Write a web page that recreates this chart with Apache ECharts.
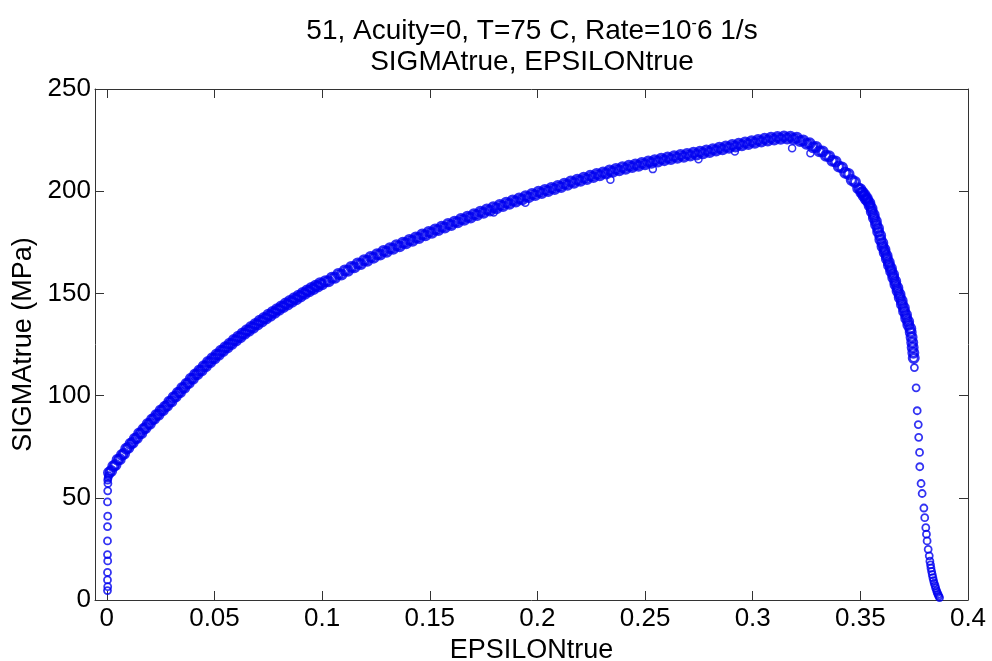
<!DOCTYPE html>
<html>
<head>
<meta charset="utf-8">
<script src="https://cdn.jsdelivr.net/npm/echarts@6/dist/echarts.min.js"></script>
<style>
    html, body { margin: 0; padding: 0; background: #fff; }
    #chart { width: 992px; height: 661px; }
</style>
</head>
<body>
<div id="chart"></div>
<script>
var strainTicks = [0, 0.05, 0.1, 0.15, 0.2, 0.25, 0.3, 0.35, 0.4];
var stressTicks = [0, 50, 100, 150, 200, 250];

// loading straight up at epsilon ~ 0
var elasticPoints = [
    [0.0003, 4.6], [0.0004, 6.5], [0.0003, 9.8], [0.0003, 13.5], [0.0004, 19.1],
    [0.0003, 22.2], [0.0003, 28.9], [0.0003, 35.9], [0.0004, 41.0], [0.0003, 48.0],
    [0.0004, 53.4], [0.0005, 57.0], [0.0004, 58.7], [0.0006, 59.8], [0.0008, 60.8]
];

var hardeningPoints = [
    [0.001, 62.3], [0.002, 63.1], [0.003, 65.4], [0.004, 66.0], [0.005, 68.6],
    [0.006, 68.9], [0.007, 71.0], [0.008, 71.6], [0.009, 74.0], [0.010, 74.5],
    [0.011, 76.4], [0.012, 76.9], [0.013, 78.9], [0.014, 79.2], [0.015, 81.5],
    [0.016, 81.6], [0.017, 83.6], [0.018, 84.1], [0.019, 86.1], [0.020, 86.2],
    [0.021, 88.3], [0.022, 88.7], [0.023, 90.5], [0.024, 90.6], [0.025, 92.7],
    [0.026, 92.8], [0.027, 94.5], [0.028, 95.0], [0.029, 97.0], [0.030, 97.1],
    [0.031, 99.2], [0.032, 99.5], [0.033, 101.4], [0.034, 101.6], [0.035, 103.7],
    [0.036, 103.8], [0.037, 105.8], [0.038, 106.1], [0.039, 108.3], [0.040, 108.2],
    [0.041, 110.3], [0.042, 110.4], [0.043, 112.3], [0.044, 112.3], [0.045, 114.4],
    [0.046, 114.3], [0.047, 116.4], [0.048, 116.3], [0.049, 118.3], [0.050, 118.2],
    [0.051, 120.1], [0.052, 120.0], [0.053, 121.9], [0.054, 121.8], [0.055, 123.7],
    [0.056, 123.5], [0.057, 125.4], [0.058, 125.3], [0.059, 127.2], [0.060, 126.9],
    [0.061, 128.8], [0.062, 128.6], [0.063, 130.4], [0.064, 130.2], [0.065, 132.0],
    [0.066, 131.7], [0.067, 133.6], [0.068, 133.2], [0.069, 135.0], [0.070, 134.8],
    [0.071, 136.6], [0.072, 136.2], [0.073, 138.0], [0.074, 137.7], [0.075, 139.5],
    [0.076, 139.1], [0.077, 140.9], [0.078, 140.5], [0.079, 142.3], [0.080, 142.0],
    [0.081, 143.6], [0.082, 143.3], [0.083, 145.0], [0.084, 144.6], [0.085, 146.3],
    [0.086, 145.9], [0.087, 147.6], [0.088, 147.1], [0.089, 148.9], [0.090, 148.5],
    [0.091, 150.2], [0.092, 149.8], [0.093, 151.4], [0.094, 151.1], [0.095, 152.6],
    [0.096, 152.2], [0.097, 153.8], [0.098, 153.4], [0.099, 155.0], [0.100, 154.5],
    [0.1015, 156.0], [0.103, 155.9], [0.1045, 157.7], [0.106, 157.6], [0.1075, 159.5],
    [0.109, 159.3], [0.1105, 161.2], [0.112, 161.1], [0.1135, 162.9], [0.115, 162.8],
    [0.1165, 164.6], [0.118, 164.4], [0.1195, 166.2], [0.121, 166.0], [0.1225, 167.8],
    [0.124, 167.5], [0.1255, 169.2], [0.127, 169.0], [0.1285, 170.7], [0.130, 170.4],
    [0.1315, 172.1], [0.133, 171.8], [0.1345, 173.5], [0.136, 173.1], [0.1375, 174.8],
    [0.139, 174.5], [0.1405, 176.1], [0.142, 175.8], [0.1435, 177.4], [0.145, 177.1],
    [0.1465, 178.8], [0.148, 178.4], [0.1495, 180.1], [0.151, 179.7], [0.1525, 181.3],
    [0.154, 181.0], [0.1555, 182.6], [0.157, 182.2], [0.1585, 183.9], [0.160, 183.5],
    [0.1615, 185.1], [0.163, 184.8], [0.1645, 186.4], [0.166, 186.0], [0.1675, 187.5],
    [0.169, 187.1], [0.1705, 188.7], [0.172, 188.3], [0.1735, 189.9], [0.175, 189.5],
    [0.1765, 191.0], [0.178, 190.6], [0.1795, 192.1], [0.181, 191.7], [0.1825, 193.2],
    [0.184, 192.7], [0.1855, 194.3], [0.187, 193.8], [0.1885, 195.4], [0.190, 194.9],
    [0.1915, 196.4], [0.193, 196.0], [0.1945, 197.5], [0.196, 197.1], [0.1975, 198.6],
    [0.199, 198.1], [0.2005, 199.7], [0.202, 199.1], [0.2035, 200.6], [0.205, 200.1],
    [0.2065, 201.6], [0.208, 201.1], [0.2095, 202.6], [0.211, 202.1], [0.2125, 203.7],
    [0.214, 203.2], [0.2155, 204.7], [0.217, 204.1], [0.2185, 205.6], [0.220, 205.1],
    [0.2215, 206.6], [0.223, 206.0], [0.2245, 207.5], [0.226, 206.9], [0.2275, 208.4],
    [0.229, 207.8], [0.2305, 209.2], [0.232, 208.7], [0.2335, 210.1], [0.235, 209.5],
    [0.2365, 210.9], [0.238, 210.3], [0.2395, 211.7], [0.241, 211.0], [0.2425, 212.4],
    [0.244, 211.8], [0.2455, 213.1], [0.247, 212.5], [0.2485, 213.8], [0.250, 213.2],
    [0.2515, 214.5], [0.253, 213.9], [0.2545, 215.2], [0.256, 214.5], [0.2575, 215.9],
    [0.259, 215.2], [0.2605, 216.5], [0.262, 215.8], [0.2635, 217.1], [0.265, 216.4],
    [0.2665, 217.7], [0.268, 216.9], [0.2695, 218.2], [0.271, 217.5], [0.2725, 218.8],
    [0.274, 218.0], [0.2755, 219.3], [0.277, 218.6], [0.2785, 219.9], [0.280, 219.2],
    [0.2815, 220.5], [0.283, 219.9], [0.2845, 221.2], [0.286, 220.5], [0.2875, 221.9],
    [0.289, 221.3], [0.2905, 222.6], [0.292, 221.9], [0.2935, 223.2], [0.295, 222.5],
    [0.2965, 223.8], [0.298, 223.1], [0.2995, 224.4], [0.301, 223.7], [0.3025, 225.0],
    [0.304, 224.3], [0.3055, 225.6], [0.307, 224.8], [0.3085, 226.1], [0.310, 225.3],
    [0.3115, 226.5], [0.313, 225.6], [0.3145, 226.8], [0.316, 225.8]
];

var softeningPoints = [
    [0.3175, 226.7], [0.319, 225.5], [0.3205, 226.1], [0.322, 224.5], [0.3235, 224.8],
    [0.325, 223.2], [0.3265, 223.4], [0.328, 221.5], [0.3295, 221.6], [0.331, 219.5],
    [0.3325, 219.4], [0.334, 217.3], [0.3355, 217.1], [0.337, 214.9], [0.3385, 214.5],
    [0.340, 212.1], [0.3415, 211.6], [0.343, 209.0], [0.3445, 208.4], [0.346, 205.5],
    [0.3475, 204.5], [0.349, 201.5], [0.350, 201.0], [0.3505, 199.4], [0.351, 199.5],
    [0.3515, 197.8], [0.352, 198.1], [0.3525, 196.2], [0.353, 196.5],
    [0.3533, 195.3], [0.3542, 194.2], [0.3543, 193.0], [0.3552, 191.6], [0.3553, 190.1],
    [0.3562, 188.5], [0.3563, 186.9], [0.3572, 185.3], [0.3573, 183.6], [0.3582, 181.9],
    [0.3583, 180.1], [0.3592, 178.3], [0.3593, 176.4], [0.3602, 174.6], [0.3603, 173.0],
    [0.3612, 171.5], [0.3613, 170.0], [0.3622, 168.4], [0.3623, 166.9], [0.3632, 165.3],
    [0.3633, 163.8], [0.3642, 162.3], [0.3643, 160.8], [0.3652, 159.2], [0.3653, 157.6],
    [0.3662, 156.0], [0.3663, 154.4], [0.3672, 152.8], [0.3673, 151.2], [0.3682, 149.6],
    [0.3683, 148.0], [0.3692, 146.4], [0.3693, 144.7], [0.3702, 143.0], [0.3703, 141.3],
    [0.3712, 139.6], [0.3713, 137.9], [0.3722, 136.2], [0.3723, 134.5], [0.3732, 132.8],
    [0.3734, 131.0], [0.3738, 128.6], [0.3741, 126.0], [0.3743, 123.5], [0.3746, 121.0],
    [0.3748, 118.4]
];

// sparse points after the neck, then the tail down to zero
var fracturePoints = [
    [0.3751, 113.7], [0.3759, 103.8], [0.3764, 92.6], [0.3769, 85.8], [0.3771, 79.6],
    [0.3775, 72.2], [0.3776, 65.2], [0.3782, 57.0], [0.3787, 52.1], [0.3795, 45.0],
    [0.3799, 40.3], [0.3804, 35.4], [0.3807, 32.2], [0.3810, 28.9], [0.3815, 24.8],
    [0.3820, 21.6], [0.3823, 19.0], [0.3826, 17.2], [0.3828, 15.6], [0.3831, 14.0],
    [0.3834, 12.4], [0.3837, 10.9], [0.3840, 9.5], [0.3843, 8.2], [0.3847, 7.0],
    [0.3850, 5.8], [0.3854, 4.6], [0.3857, 3.6], [0.3861, 2.7], [0.3864, 1.9],
    [0.3868, 1.2]
];

var strayPoints = [
    [0.1797, 189.6], [0.1944, 194.3], [0.2339, 205.6], [0.2536, 210.8],
    [0.2748, 215.6], [0.2917, 219.4], [0.3183, 221.0], [0.3268, 218.6]
];

var fontName = "'Liberation Sans', Arial, sans-serif";
var chart = echarts.init(document.getElementById('chart'));

var axisLineOpt = { show: true, onZero: false, lineStyle: { color: '#333', width: 1 } };
var tickOpt = { show: true, inside: true, length: 9, lineStyle: { color: '#333' } };

// size/width differ: the dense band is drawn heavier than the loose circles
function circles(data, size, width) {
    return {
        type: 'scatter',
        symbol: 'circle',
        symbolSize: size,
        itemStyle: { color: 'transparent', borderColor: '#0000f0', borderWidth: width },
        data: data
    };
}

var option = {
    backgroundColor: '#fff',
    animation: false,
    title: {
        text: '51, Acuity=0, T=75 C, Rate=10{s|-}6 1/s\nSIGMAtrue, EPSILONtrue',
        left: 527,
        top: 11,
        textAlign: 'center',
        textStyle: {
            fontFamily: fontName, fontSize: 28, fontWeight: 'normal', color: '#000', lineHeight: 31,
            rich: {
                s: { fontFamily: fontName, fontSize: 16, color: '#000', verticalAlign: 'top', lineHeight: 31 }
            }
        }
    },
    grid: { left: 95, right: 24, top: 89, bottom: 61, outerBoundsMode: 'none' },
    xAxis: [{
        type: 'value',
        min: -0.0055,
        max: 0.4,
        name: 'EPSILONtrue',
        nameLocation: 'middle',
        nameGap: 35,
        nameTextStyle: { fontFamily: fontName, fontSize: 27, color: '#000' },
        axisLine: axisLineOpt,
        axisTick: Object.assign({ customValues: strainTicks }, tickOpt),
        axisLabel: { customValues: strainTicks, fontFamily: fontName, fontSize: 26, color: '#000', margin: 6 },
        splitLine: { show: false }
    }, {
        type: 'value',
        position: 'top',
        min: -0.0055,
        max: 0.4,
        axisLine: axisLineOpt,
        axisTick: Object.assign({ customValues: strainTicks }, tickOpt),
        axisLabel: { show: false },
        splitLine: { show: false }
    }],
    yAxis: [{
        type: 'value',
        min: stressTicks[0],
        max: stressTicks[stressTicks.length - 1],
        interval: 50,
        name: 'SIGMAtrue (MPa)',
        nameLocation: 'middle',
        nameGap: 58,
        nameTextStyle: { fontFamily: fontName, fontSize: 27, color: '#000' },
        axisLine: axisLineOpt,
        axisTick: tickOpt,
        axisLabel: { fontFamily: fontName, fontSize: 26, color: '#000', margin: 4 },
        splitLine: { show: false }
    }, {
        type: 'value',
        position: 'right',
        min: stressTicks[0],
        max: stressTicks[stressTicks.length - 1],
        interval: 50,
        axisLine: axisLineOpt,
        axisTick: tickOpt,
        axisLabel: { show: false },
        splitLine: { show: false }
    }],
    series: [
        circles(elasticPoints, 7, 1.8),
        circles(hardeningPoints, 9, 3),
        circles(softeningPoints, 9, 3),
        circles(fracturePoints, 7, 1.8),
        circles(strayPoints, 7, 1.5)
    ]
};

chart.setOption(option);
</script>
</body>
</html>
